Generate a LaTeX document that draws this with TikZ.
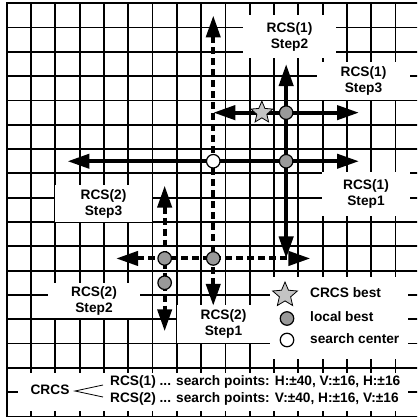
\documentclass[tikz,border=0pt]{standalone}
\usepackage{fontspec}
\setmainfont{Liberation Sans}
\usetikzlibrary{arrows.meta,shapes.geometric}
\definecolor{dotgray}{HTML}{999999}
\definecolor{stargray}{HTML}{C4C4C4}
\tikzset{
  bigtri/.tip={Triangle[length=22pt,width=14pt]},
  gridline/.style={line width=1.8pt, black, line cap=rect},
  whitebox/.style={fill=white, draw=none, inner sep=0pt},
  lbl/.style={font=\bfseries\fontsize{13.7}{16}\selectfont, align=center, inner sep=0pt},
  solidarrow/.style={line width=4pt, bigtri-bigtri},
  dashedarrow/.style={line width=4pt, dash pattern=on 7pt off 4pt, bigtri-bigtri},
  graydot/.style={circle, draw=black, line width=1.2pt, fill=dotgray, minimum size=13.5pt, inner sep=0pt},
  whitedot/.style={circle, draw=black, line width=1.2pt, fill=white, minimum size=13.5pt, inner sep=0pt},
  beststar/.style={star, star points=5, star point ratio=2.2, draw=black, line width=0.8pt, fill=stargray, minimum size=23pt, inner sep=0pt},
  brace/.style={line width=0.8pt},
}
\begin{document}
\begin{tikzpicture}[x=1pt,y=-1pt]
\useasboundingbox (0,0) rectangle (417,419);
% grid
\begin{scope}
\clip (0,0) rectangle (417,419);
\foreach \i in {0,...,16} \draw[gridline] ({6.7+24.3*\i},3.3) -- ({6.7+24.3*\i},416.4);
\foreach \j in {0,...,17} \draw[gridline] (6.7,{3.3+24.3*\j}) -- (425,{3.3+24.3*\j});
\end{scope}
% white label boxes
\node[whitebox, lbl, minimum width=93pt, minimum height=43pt] (r1s2) at (289.5,37) {RCS(1)\\Step2};
\node[whitebox, lbl, minimum width=93pt, minimum height=38pt] (r1s3) at (363.5,81) {RCS(1)\\Step3};
\node[whitebox, lbl, minimum width=88pt, minimum height=43pt] (r1s1) at (366,194) {RCS(1)\\Step1};
\node[whitebox, lbl, minimum width=97pt, minimum height=37pt] (r2s3) at (103.5,203.5) {RCS(2)\\Step3};
\node[whitebox, lbl, minimum width=92pt, minimum height=35pt] (r2s2) at (94,300.5) {RCS(2)\\Step2};
\node[whitebox, lbl, minimum width=93pt, minimum height=38pt] (r2s1) at (223.5,324) {RCS(2)\\Step1};
\node[whitebox, minimum width=138pt, minimum height=82pt] (legendbox) at (339,318) {};
\node[whitebox, minimum width=390pt, minimum height=38pt] (bottombox) at (213,392) {};
% search paths in grid cell units
\begin{scope}[shift={(6.7,3.3)}, x=24.3pt, y=-24.3pt]
  \coordinate (p1a) at (8.5,0.5);   \coordinate (p1b) at (8.5,12.45);
  \coordinate (p2a) at (4.5,10.5);  \coordinate (p2b) at (12.5,10.5);
  \coordinate (p3a) at (6.5,7.5);   \coordinate (p3b) at (6.5,13.5);
  \coordinate (q1a) at (2.5,6.5);   \coordinate (q1b) at (14.5,6.5);
  \coordinate (q2a) at (11.5,2.5);  \coordinate (q2b) at (11.5,10.5);
  \coordinate (q3a) at (8.5,4.5);   \coordinate (q3b) at (14.5,4.5);
  \draw[dashedarrow] (p1a) -- (p1b);
  \draw[dashedarrow] (p2a) -- (p2b);
  \draw[dashedarrow] (p3a) -- (p3b);
  \draw[solidarrow] (q1a) -- (q1b);
  \draw[solidarrow] (q2a) -- (q2b);
  \draw[solidarrow] (q3a) -- (q3b);
  \node[whitedot] (center) at (8.5,6.5) {};
  \node[graydot] (g1) at (11.5,6.5) {};
  \node[graydot] (g2) at (11.5,4.5) {};
  \node[graydot] (g3) at (8.5,10.5) {};
  \node[graydot] (g4) at (6.5,10.5) {};
  \node[graydot] (g5) at (6.5,11.5) {};
  \node[beststar] (best) at (10.5,4.5) {};
\end{scope}
% legend
\node[beststar, minimum size=26pt] (legstar) at (285,295) {};
\node[graydot] (leggray) at (287,318.5) {};
\node[whitedot] (legwhite) at (287,340) {};
\node[lbl, anchor=west] (legt1) at (310,293) {CRCS best};
\node[lbl, anchor=west] (legt2) at (310,317) {local best};
\node[lbl, anchor=west] (legt3) at (310,339) {search center};
% bottom explanation
\node[lbl] (crcs) at (50,390) {CRCS};
\node[lbl, anchor=west] (line1) at (110,381.5) {RCS(1) ... search points: H:±40, V:±16, H:±16};
\node[lbl, anchor=west] (line2) at (110,399) {RCS(2) ... search points: V:±40, H:±16, V:±16};
\coordinate (vtx) at (75,391);
\coordinate (upend) at (103,385);
\coordinate (dnend) at (103,397);
\draw[brace] (upend) -- (vtx) -- (dnend);
\end{tikzpicture}
\end{document}
